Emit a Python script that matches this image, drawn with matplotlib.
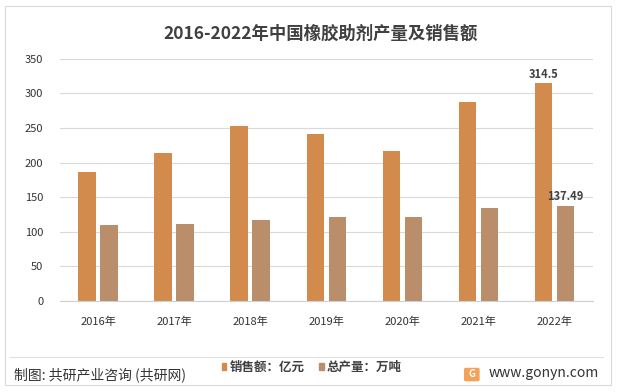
import matplotlib.pyplot as plt
import numpy as np
from matplotlib.patches import Rectangle, FancyBboxPatch

plt.rcParams['font.family'] = ['Noto Sans CJK SC', 'DejaVu Sans']

years = ['2016年', '2017年', '2018年', '2019年', '2020年', '2021年', '2022年']
sales = [187, 214, 253, 242, 217, 288, 314.5]       # 销售额：亿元
output = [110, 111, 117, 122, 122, 135, 137.49]     # 总产量：万吨

c_sales = '#D38B4D'
c_output = '#BA8D6B'

fig = plt.figure(figsize=(6.18, 3.92), dpi=100)
ax = fig.add_axes([0.097, 0.232, 0.862, 0.618])

x = np.arange(len(years))
w = 0.23
gap = 0.03
ax.bar(x - w / 2 - gap, sales, width=w, color=c_sales, zorder=2)
ax.bar(x + w / 2 + gap, output, width=w, color=c_output, zorder=2)

ax.text(x[-1] - w / 2 - gap, sales[-1] + 4, '314.5', ha='center', va='bottom',
        fontsize=8, fontweight='bold', color='#404040')
ax.text(x[-1] + w / 2 + gap, output[-1] + 4, '137.49', ha='center', va='bottom',
        fontsize=8, fontweight='bold', color='#404040')

ax.set_ylim(0, 350)
ax.set_yticks(range(0, 351, 50))
ax.set_xlim(-0.5, len(years) - 0.5)
ax.set_xticks(x)
ax.set_xticklabels(years)
ax.tick_params(axis='both', length=0, labelsize=8, colors='#333333')
for lb in ax.get_xticklabels() + ax.get_yticklabels():
    lb.set_fontweight('medium')
ax.tick_params(axis='y', pad=12)
ax.tick_params(axis='x', pad=11)
ax.grid(axis='y', color='#D9D9D9', linewidth=0.8, zorder=0)
for s in ['left', 'right', 'top']:
    ax.spines[s].set_visible(False)
ax.spines['bottom'].set_color('#D0D0D0')

fig.text(0.518, 0.915, '2016-2022年中国橡胶助剂产量及销售额', ha='center', va='center',
         fontsize=12.5, fontweight='bold', color='#404040')

# frame and footer line
fig.patches.append(Rectangle((0.008, 0.017), 0.98, 0.968, transform=fig.transFigure,
                             fill=False, edgecolor='#D9D9D9', linewidth=0.8))
fig.lines.append(plt.Line2D([0.016, 0.975], [0.09, 0.09], transform=fig.transFigure,
                            color='#E0E0E0', linewidth=0.8))

fig.text(0.022, 0.043, '制图: 共研产业咨询 (共研网)', fontsize=10, color='#333333', va='center')

# legend in footer
fig.patches.append(Rectangle((0.359, 0.055), 0.0075, 0.02, transform=fig.transFigure,
                             color=c_sales))
fig.text(0.372, 0.064, '销售额：亿元', fontsize=9, fontweight='bold', color='#404040', va='center')
fig.patches.append(Rectangle((0.516, 0.055), 0.0075, 0.02, transform=fig.transFigure,
                             color=c_output))
fig.text(0.529, 0.064, '总产量：万吨', fontsize=9, fontweight='bold', color='#404040', va='center')

# site logo and url
fig.patches.append(FancyBboxPatch((0.754, 0.031), 0.019, 0.027, transform=fig.transFigure,
                                  boxstyle='round,pad=0.002', color='#F4A259'))
fig.text(0.7635, 0.045, 'G', fontsize=7, color='white', fontweight='bold',
         ha='center', va='center')
fig.text(0.79, 0.048, 'www.gonyn.com', fontsize=10, color='#333333', va='center')

plt.savefig('out.png', dpi=100)
plt.close()
